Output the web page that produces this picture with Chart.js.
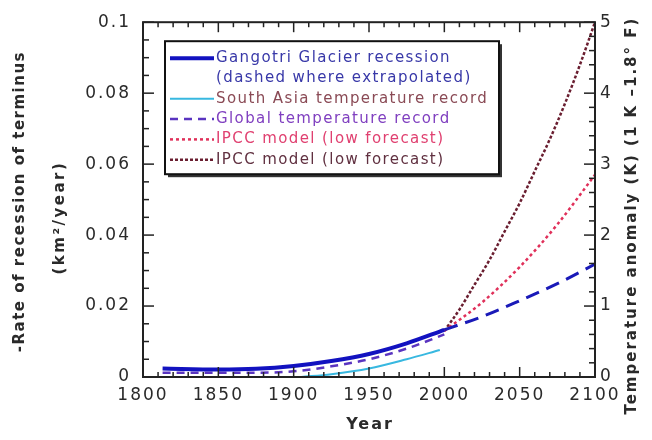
<!DOCTYPE html>
<html>
<head>
<meta charset="utf-8">
<script src="https://cdn.jsdelivr.net/npm/chart.js@4"></script>
<style>
  html, body { margin: 0; padding: 0; background: #fff; }
  #wrap { width: 652px; height: 440px; }
</style>
</head>
<body>
<div id="wrap"><canvas id="glacierChart"></canvas></div>
<script>
// Gangotri glacier terminus recession (km^2/year), left axis
const gangotriYears = [1813, 1850, 1875, 1900, 1925, 1950, 1975, 2000];
const gangotriRate = [0.0024, 0.0021, 0.0023, 0.0031, 0.0045, 0.0065, 0.0095, 0.0133];
const extrapYears = [2000, 2025, 2050, 2075, 2100];
const extrapRate = [0.0133, 0.0170, 0.0215, 0.0263, 0.0318];

// temperature anomalies (K), right axis
const southAsiaYears = [1905, 1925, 1950, 1975, 1997];
const southAsiaTemp = [0.0, 0.04, 0.12, 0.25, 0.38];
const globalYears = [1813, 1850, 1875, 1900, 1925, 1950, 1975, 2000];
const globalTemp = [0.06, 0.06, 0.06, 0.08, 0.15, 0.25, 0.40, 0.60];
const ipccYears = [2000, 2025, 2050, 2075, 2100];
const ipccLowTemp = [0.65, 1.05, 1.55, 2.15, 2.85];
const ipccHighYears = [2000, 2010, 2020, 2030, 2040, 2050, 2060, 2070, 2080, 2090, 2100];
const ipccHighTemp = [0.65, 0.95, 1.30, 1.65, 2.05, 2.45, 2.90, 3.35, 3.85, 4.40, 5.00];

const yearTicks = [1800, 1850, 1900, 1950, 2000, 2050, 2100];

function pts(xs, ys) {
    return xs.map(function (x, i) { return { x: x, y: ys[i] }; });
}

const axisColor = '#2a2a2a';
const tickFont = { family: 'DejaVu Sans', size: 17 };

// wide lettering like the original
const spacing = {
    id: 'spacing',
    beforeUpdate(chart) { chart.ctx.letterSpacing = '2px'; },
    beforeDraw(chart) { chart.ctx.letterSpacing = '2px'; }
};

// frame, inward ticks and axis titles
const framePlugin = {
    id: 'frame',
    afterDatasetsDraw(chart) {
        const ctx = chart.ctx;
        const a = chart.chartArea;
        const sx = chart.scales.x, sy = chart.scales.y, sy2 = chart.scales.y2;
        ctx.save();
        ctx.strokeStyle = '#222';
        ctx.lineWidth = 1.5;
        function tick(x1, y1, x2, y2) {
            ctx.beginPath(); ctx.moveTo(x1, y1); ctx.lineTo(x2, y2); ctx.stroke();
        }
        for (let v = 1800; v <= 2100; v += 10) {
            const px = sx.getPixelForValue(v);
            const len = v % 50 === 0 ? 10 : 5;
            tick(px, a.bottom, px, a.bottom - len);
            tick(px, a.top, px, a.top + len);
        }
        for (let i = 0; i <= 20; i++) {
            const py = sy.getPixelForValue(i * 0.005);
            tick(a.left, py, a.left + (i % 4 === 0 ? 11 : 6), py);
        }
        for (let i = 0; i <= 25; i++) {
            const py = sy2.getPixelForValue(i * 0.2);
            tick(a.right, py, a.right - (i % 5 === 0 ? 11 : 6), py);
        }
        ctx.lineWidth = 2;
        ctx.strokeRect(a.left, a.top, a.right - a.left, a.bottom - a.top);

        ctx.fillStyle = axisColor;
        ctx.textAlign = 'center';
        ctx.textBaseline = 'middle';
        const midY = (a.top + a.bottom) / 2;

        ctx.font = 'bold 16px "DejaVu Sans"';
        ctx.letterSpacing = '2px';
        ctx.fillText('Year', (a.left + a.right) / 2 + 1, 425);

        ctx.font = 'bold 15px "DejaVu Sans"';
        ctx.letterSpacing = '1.5px';
        ctx.save();
        ctx.translate(20, midY + 2);
        ctx.rotate(-Math.PI / 2);
        ctx.fillText('-Rate of recession of terminus', 0, 0);
        ctx.restore();
        ctx.save();
        ctx.translate(60, midY + 18);
        ctx.rotate(-Math.PI / 2);
        ctx.letterSpacing = '2.5px';
        ctx.fillText('(km\u00b2/year)', 0, 0);
        ctx.restore();

        ctx.save();
        ctx.letterSpacing = '2px';
        ctx.translate(632, midY + 16);
        ctx.rotate(-Math.PI / 2);
        ctx.fillText('Temperature anomaly (K) (1 K \u20131.8\u00b0 F)', 0, 0);
        ctx.restore();
        ctx.restore();
    }
};

// boxed legend inside the plot
const boxLegend = {
    id: 'boxLegend',
    afterDraw(chart) {
        const ctx = chart.ctx;
        const a = chart.chartArea;
        const bx = a.left + 22, by = a.top + 19, bw = 334, bh = 133;
        const ds = chart.data.datasets;
        const rows = [
            { ds: 0, text: ds[0].label, color: '#3838a8' },
            { ds: null, text: '(dashed where extrapolated)', color: '#3838a8' },
            { ds: 2, text: ds[2].label, color: '#8a4a55' },
            { ds: 3, text: ds[3].label, color: '#8040c0' },
            { ds: 4, text: ds[4].label, color: '#e04070' },
            { ds: 5, text: ds[5].label, color: '#603040' }
        ];
        ctx.save();
        ctx.letterSpacing = '0px';
        ctx.fillStyle = '#333';
        ctx.fillRect(bx + 3, by + 3, bw, bh);
        ctx.fillStyle = '#fff';
        ctx.fillRect(bx, by, bw, bh);
        ctx.strokeStyle = '#111';
        ctx.lineWidth = 2;
        ctx.strokeRect(bx, by, bw, bh);
        ctx.font = '15px "DejaVu Sans"';
        ctx.textBaseline = 'middle';
        rows.forEach(function (r, i) {
            const cy = by + 17 + i * 20.3;
            if (r.ds !== null) {
                const d = ds[r.ds];
                ctx.strokeStyle = d.borderColor;
                ctx.lineWidth = d.borderWidth;
                ctx.setLineDash(d.borderDash || []);
                ctx.beginPath();
                ctx.moveTo(bx + 5, cy);
                ctx.lineTo(bx + 49, cy);
                ctx.stroke();
                ctx.setLineDash([]);
            }
            ctx.fillStyle = r.color;
            ctx.letterSpacing = '1.4px';
            ctx.fillText(r.text, bx + 51, cy);
            ctx.letterSpacing = '0px';
        });
        ctx.restore();
    }
};

new Chart(document.getElementById('glacierChart'), {
    type: 'line',
    data: {
        datasets: [
            {
                label: 'Gangotri Glacier recession',
                data: pts(gangotriYears, gangotriRate),
                yAxisID: 'y',
                borderColor: '#1212c0',
                borderWidth: 4,
                order: 1
            },
            {
                label: 'Gangotri (extrapolated)',
                data: pts(extrapYears, extrapRate),
                yAxisID: 'y',
                borderColor: '#1a1ab8',
                borderWidth: 3,
                borderDash: [14, 8],
                order: 1
            },
            {
                label: 'South Asia temperature record',
                data: pts(southAsiaYears, southAsiaTemp),
                yAxisID: 'y2',
                borderColor: '#38b8e0',
                borderWidth: 2,
                order: 2
            },
            {
                label: 'Global temperature record',
                data: pts(globalYears, globalTemp),
                yAxisID: 'y2',
                borderColor: '#5a34c0',
                borderWidth: 2.5,
                borderDash: [8, 6],
                order: 2
            },
            {
                label: 'IPCC model (low forecast)',
                data: pts(ipccYears, ipccLowTemp),
                yAxisID: 'y2',
                borderColor: '#e0305a',
                borderWidth: 2.5,
                borderDash: [3, 3],
                order: 2
            },
            {
                label: 'IPCC model (low forecast)',
                data: pts(ipccHighYears, ipccHighTemp),
                yAxisID: 'y2',
                borderColor: '#6a1e30',
                borderWidth: 2.5,
                borderDash: [3, 2],
                order: 2
            }
        ]
    },
    options: {
        responsive: true,
        maintainAspectRatio: false,
        animation: false,
        layout: { padding: { top: 12, left: 0, right: 0, bottom: 0 } },
        elements: {
            point: { radius: 0 },
            line: { cubicInterpolationMode: 'monotone', fill: false }
        },
        plugins: {
            legend: { display: false },
            tooltip: { enabled: false }
        },
        scales: {
            x: {
                type: 'linear',
                min: 1800,
                max: 2100,
                afterBuildTicks: function (s) { s.ticks = yearTicks.map(function (v) { return { value: v }; }); },
                afterFit: function (s) { s.height = 63; },
                ticks: { color: axisColor, font: tickFont, padding: 8, maxRotation: 0, callback: function (v) { return String(v); } },
                grid: { display: false, drawTicks: false },
                border: { display: false }
            },
            y: {
                position: 'left',
                min: 0,
                max: 0.1,
                afterFit: function (s) { s.width = 143; },
                ticks: { stepSize: 0.02, color: axisColor, font: tickFont, padding: 12,
                    callback: function (v) { return String(+v.toFixed(2)); } },
                grid: { display: false, drawTicks: false },
                border: { display: false }
            },
            y2: {
                position: 'right',
                min: 0,
                max: 5,
                afterFit: function (s) { s.width = 57; },
                ticks: { stepSize: 1, color: axisColor, font: tickFont, padding: 5 },
                grid: { display: false, drawTicks: false },
                border: { display: false }
            }
        }
    },
    plugins: [spacing, framePlugin, boxLegend]
});
</script>
</body>
</html>
